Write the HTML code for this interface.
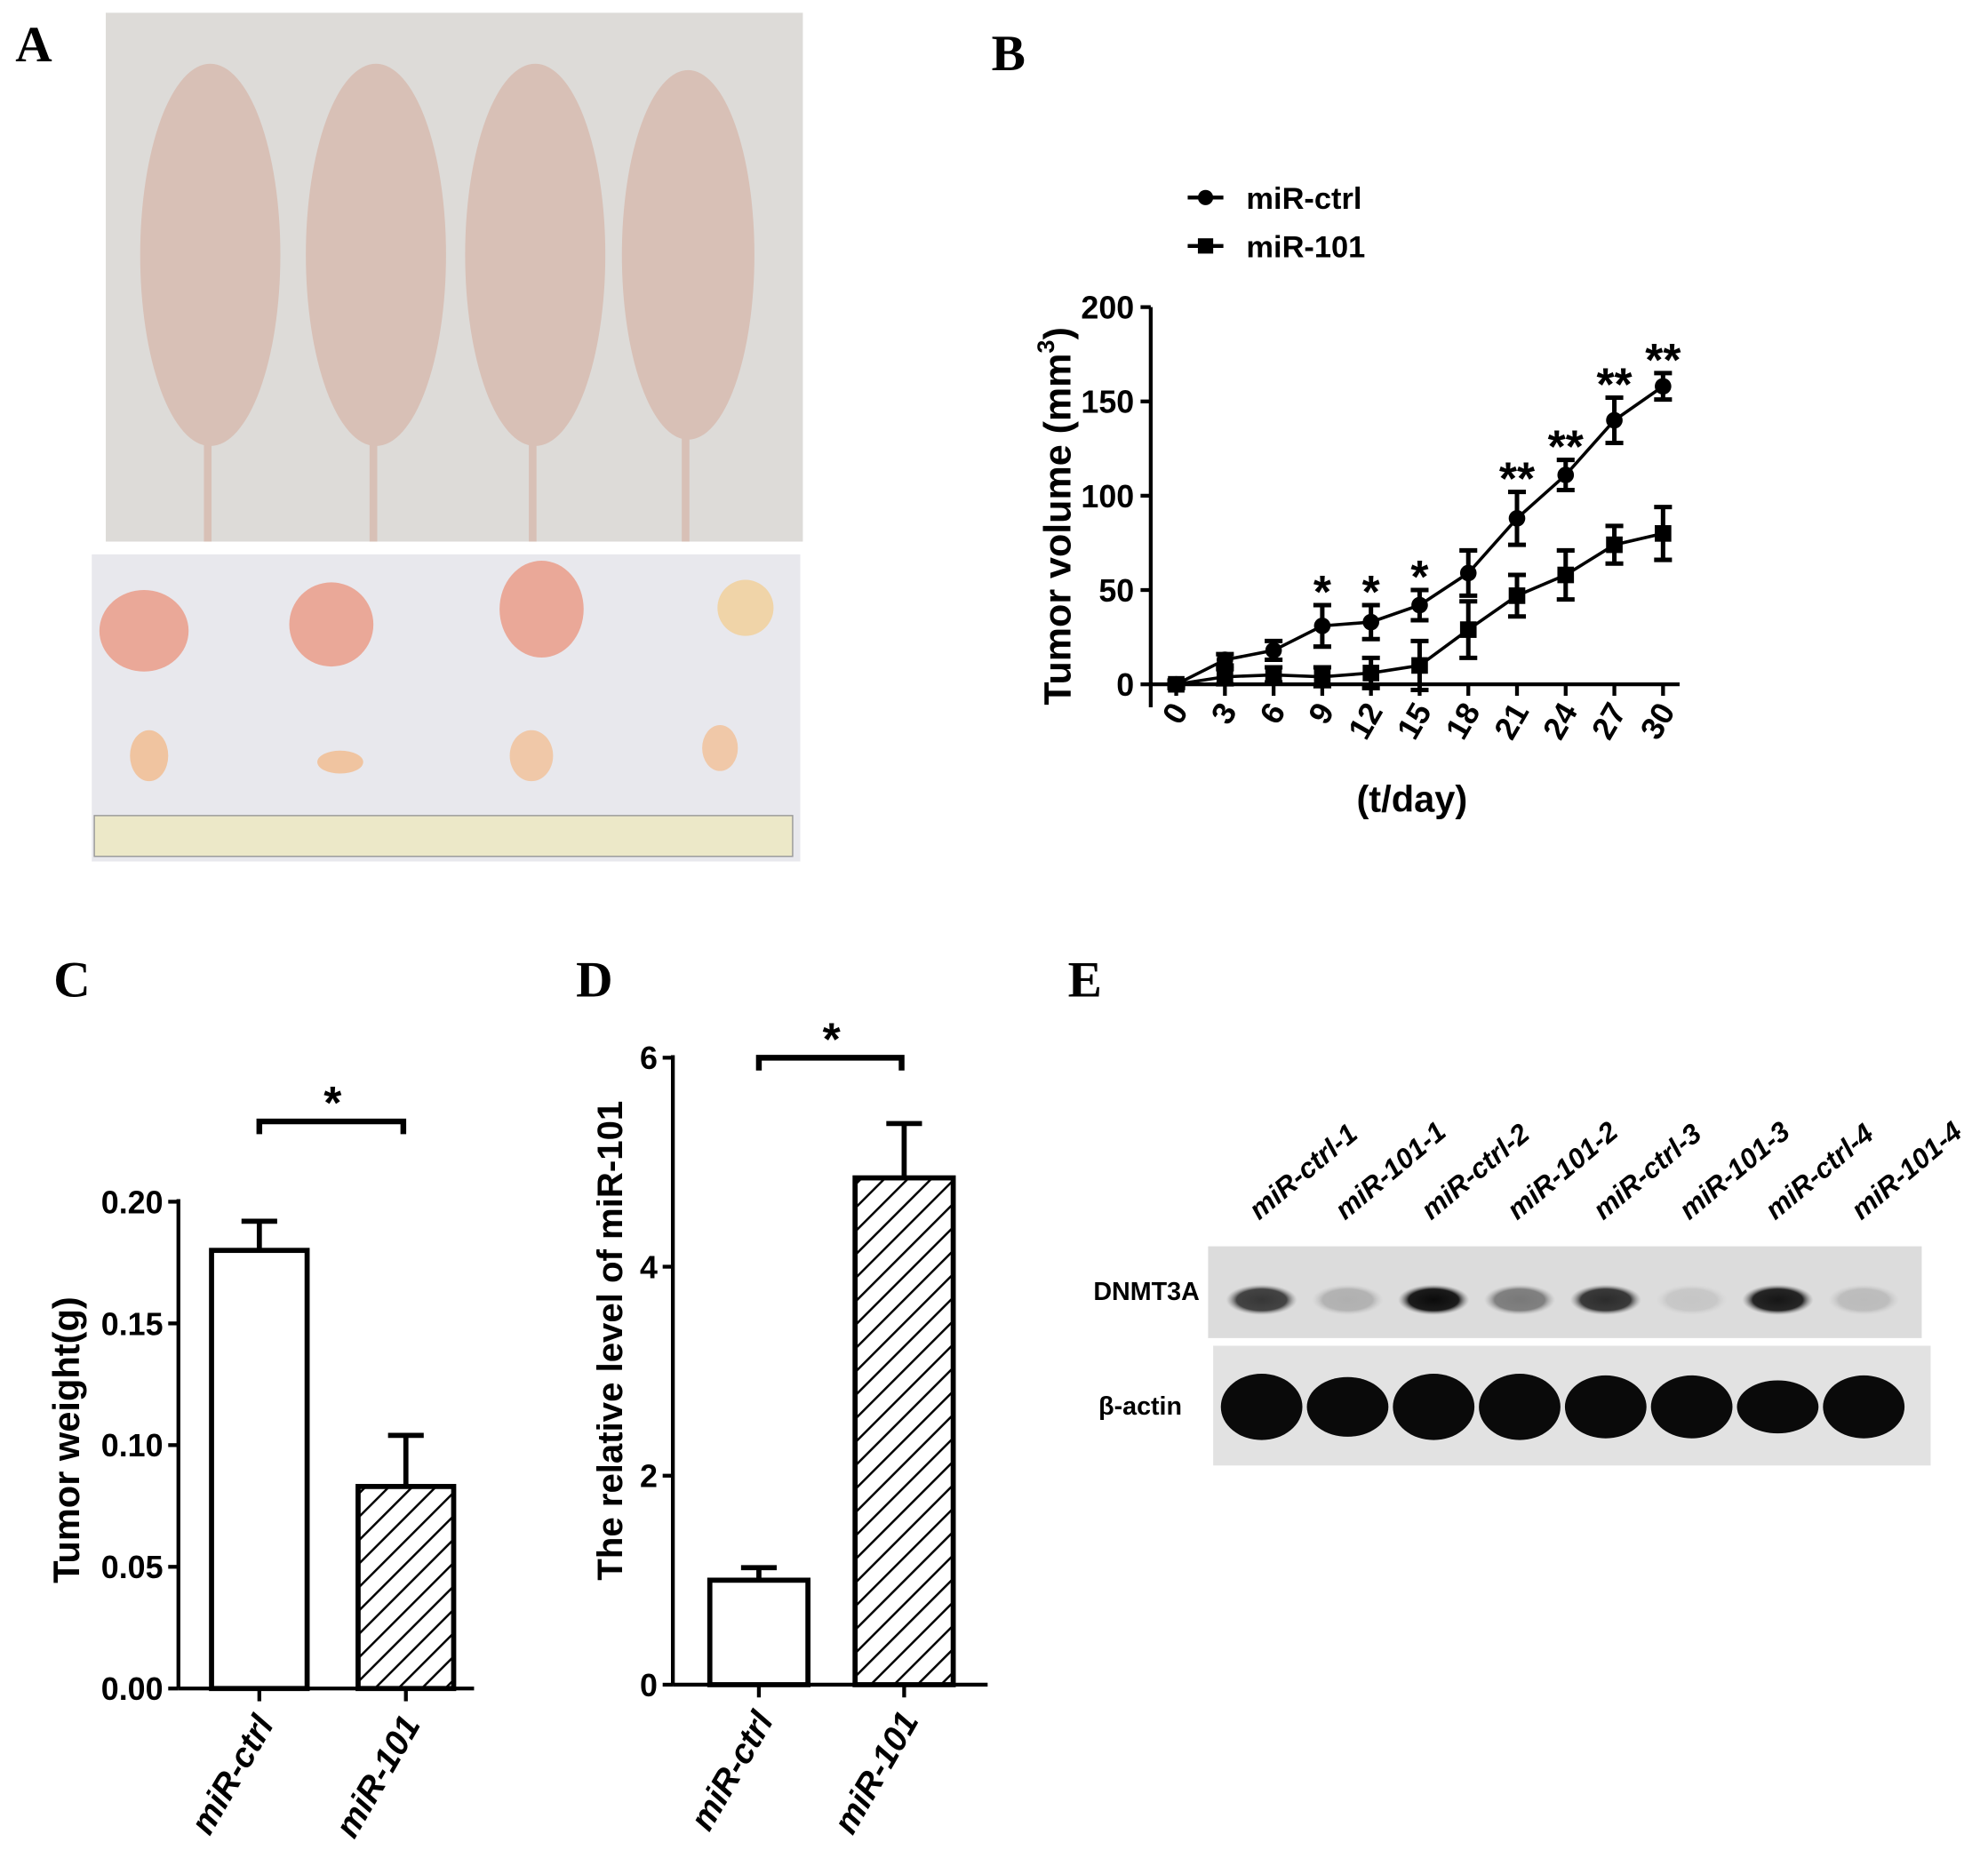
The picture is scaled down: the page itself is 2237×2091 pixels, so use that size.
<!DOCTYPE html>
<html><head><meta charset="utf-8"><style>
html,body{margin:0;padding:0;background:#fff;}
svg{display:block;}
text{font-family:"Liberation Sans",sans-serif;font-weight:bold;fill:#000;}
.pl{font-family:"Liberation Serif",serif;font-size:40px;}
</style></head><body>
<svg id="fig" width="2237" height="2091" viewBox="0 0 1560 1458" preserveAspectRatio="none" xmlns="http://www.w3.org/2000/svg">
<defs>
<pattern id="hatch" patternUnits="userSpaceOnUse" width="13" height="13" patternTransform="rotate(45)">
<rect width="13" height="13" fill="#fff"/><line x1="0" y1="0" x2="0" y2="13" stroke="#000" stroke-width="3.5"/>
</pattern>
<radialGradient id="band"><stop offset="0" stop-color="#000"/><stop offset="0.7" stop-color="#111"/><stop offset="1" stop-color="#888" stop-opacity="0"/></radialGradient>
</defs>
<g>
<text class="pl" x="12" y="48">A</text>
<rect x="83" y="10" width="547" height="415" fill="#dddbd8"/>
<g fill="#d8c0b6">
<ellipse cx="165" cy="200" rx="55" ry="150"/><ellipse cx="295" cy="200" rx="55" ry="150"/>
<ellipse cx="420" cy="200" rx="55" ry="150"/><ellipse cx="540" cy="200" rx="52" ry="145"/>
<rect x="160" y="330" width="6" height="95"/><rect x="290" y="330" width="6" height="95"/>
<rect x="415" y="330" width="6" height="95"/><rect x="535" y="330" width="6" height="95"/>
</g>
<rect x="72" y="435" width="556" height="241" fill="#e8e8ed"/>
<g fill="#eaa898">
<ellipse cx="113" cy="495" rx="35" ry="32"/><ellipse cx="260" cy="490" rx="33" ry="33"/>
<ellipse cx="425" cy="478" rx="33" ry="38"/><ellipse cx="585" cy="477" rx="22" ry="22" fill="#f0d4a8"/>
<ellipse cx="117" cy="593" rx="15" ry="20" fill="#f0c4a0"/><ellipse cx="267" cy="598" rx="18" ry="9" fill="#f0c4a0"/>
<ellipse cx="417" cy="593" rx="17" ry="20" fill="#f0c8a8"/><ellipse cx="565" cy="587" rx="14" ry="18" fill="#f0c8a8"/>
</g>
<rect x="74" y="640" width="548" height="32" fill="#ece8c8" stroke="#999"/>
</g>
<g id="pb">
<text class="pl" x="778" y="55">B</text>
<line x1="932" y1="155" x2="960" y2="155" stroke="#000" stroke-width="3"/>
<circle cx="946" cy="155" r="6"/>
<text x="978" y="164" font-size="24">miR-ctrl</text>
<line x1="932" y1="193" x2="960" y2="193" stroke="#000" stroke-width="3"/>
<rect x="940" y="187" width="12" height="12"/>
<text x="978" y="202" font-size="24">miR-101</text>
<text transform="translate(840,405) rotate(-90)" text-anchor="middle" font-size="30">Tumor volume (mm<tspan dy="-13" font-size="19">3</tspan><tspan dy="13">)</tspan></text>
<text x="1108" y="637" text-anchor="middle" font-size="29">(t/day)</text>
</g>
<g id="pc">
<text class="pl" x="42" y="782">C</text>
<text transform="translate(62,1130) rotate(-90)" text-anchor="middle" font-size="29">Tumor weight(g)</text>
</g>
<g id="pd">
<text class="pl" x="452" y="782">D</text>
<text transform="translate(488,1052) rotate(-90)" text-anchor="middle" font-size="28">The relative level of miR-101</text>
</g>
<g id="pe">
<text class="pl" x="838" y="782">E</text>
<text x="858" y="1020" font-size="20">DNMT3A</text>
<text x="862" y="1110" font-size="20">β-actin</text>
<rect x="948" y="978" width="560" height="72" fill="#dcdcdc"/>
<rect x="952" y="1056" width="563" height="94" fill="#e2e2e2"/>
</g>
</svg>
<script>
const NS='http://www.w3.org/2000/svg';
function mk(parent,tag,attrs){const e=document.createElementNS(NS,tag);for(const k in attrs)e.setAttribute(k,attrs[k]);parent.appendChild(e);return e;}

const days=[0,3,6,9,12,15,18,21,24,27,30];
const ctrlVals=[0,13,18,31,33,42,59,88,111,140,158];
const ctrlErr=[2,3,5,11,9,8,12,14,8,12,7];
const m101Vals=[0,4,5,4,6,10,29,47,58,74,80];
const m101Err=[1,4,4,5,8,13,15,11,13,10,14];
const bSig=['','','','*','*','*','','**','**','**','**'];
const bYTicks=[0,50,100,150,200];

const pb=document.getElementById('pb');
const bx=t=>923+t/30*382, by=v=>537-v*296/200;
let ax=mk(pb,'line',{x1:903,y1:241,x2:903,y2:555,stroke:'#000','stroke-width':3});

ax=mk(pb,'line',{x1:903,y1:537,x2:1318,y2:537,stroke:'#000','stroke-width':3});

bYTicks.forEach(v=>{
 const l=mk(pb,'line',{x1:895,y1:by(v),x2:903,y2:by(v),stroke:'#000','stroke-width':3});
 
 const t=mk(pb,'text',{x:890,y:by(v)+9,'text-anchor':'end','font-size':25});t.textContent=v;
 
});
days.forEach(d=>{
 const l=mk(pb,'line',{x1:bx(d),y1:537,x2:bx(d),y2:546,stroke:'#000','stroke-width':3});
 
 const t=mk(pb,'text',{transform:`translate(${bx(d)+10},${558}) rotate(-60)`,'text-anchor':'end','font-size':25});t.textContent=d;
 
});
function series(vals,errs,name,marker){
 const pts=days.map((d,i)=>bx(d)+','+by(vals[i])).join(' ');
 const p=mk(pb,'polyline',{points:pts,fill:'none',stroke:'#000','stroke-width':2.5});
 
 days.forEach((d,i)=>{
  const x=bx(d),y1=by(vals[i]+errs[i]),y2=by(vals[i]-errs[i]);
  const g=mk(pb,'path',{d:`M${x},${y1}V${y2}M${x-7},${y1}H${x+7}M${x-7},${y2}H${x+7}`,stroke:'#000','stroke-width':3.5,fill:'none'});
  
  let m;
  if(marker==='c'){m=mk(pb,'circle',{cx:x,cy:by(vals[i]),r:6.5});}
  else{m=mk(pb,'rect',{x:x-6.5,y:by(vals[i])-6.5,width:13,height:13});}
  
 });
}
series(m101Vals,m101Err,'mir-101','s');
series(ctrlVals,ctrlErr,'mir-ctrl','c');
days.forEach((d,i)=>{ if(!bSig[i])return;
 const t=mk(pb,'text',{x:bx(d),y:by(ctrlVals[i]+ctrlErr[i])+2,'text-anchor':'middle','font-size':36});t.textContent=bSig[i];
 
});

const cCats=['miR-ctrl','miR-101'];
const cVals=[0.18,0.083];
const cErr=[0.012,0.021];
const cTicks=['0.00','0.05','0.10','0.15','0.20'];
const dCats=['miR-ctrl','miR-101'];
const dVals=[1.0,4.85];
const dErr=[0.12,0.52];
const dTicks=['0','2','4','6'];

function bars(g,cfg){
 const {axX,axEnd,y0,yTop,maxV,cats,vals,errs,ticks,barL,barW,sig,key}=cfg;
 const y=v=>y0-v/maxV*(y0-yTop);
 let a=mk(g,'line',{x1:axX,y1:yTop-2,x2:axX,y2:y0,stroke:'#000','stroke-width':3});
 
 a=mk(g,'line',{x1:axX,y1:y0,x2:axEnd,y2:y0,stroke:'#000','stroke-width':3});
 
 ticks.forEach(tv=>{const v=parseFloat(tv);
  const l=mk(g,'line',{x1:axX-8,y1:y(v),x2:axX,y2:y(v),stroke:'#000','stroke-width':3});
  
  const t=mk(g,'text',{x:axX-12,y:y(v)+9,'text-anchor':'end','font-size':25});t.textContent=tv;
  
 });
 const centers=[];
 cats.forEach((c,i)=>{
  const x=barL[i],cx=x+barW/2;centers.push(cx);
  const top=y(vals[i]+errs[i]);
  const e=mk(g,'path',{d:`M${cx},${y(vals[i])}V${top}M${cx-14},${top}H${cx+14}`,stroke:'#000','stroke-width':4});
  
  const r=mk(g,'rect',{x:x,y:y(vals[i]),width:barW,height:y0-y(vals[i]),fill:i?'url(#hatch)':'#fff',stroke:'#000','stroke-width':4});
  
  const l=mk(g,'line',{x1:cx,y1:y0,x2:cx,y2:y0+10,stroke:'#000','stroke-width':3});
  
  const t=mk(g,'text',{transform:`translate(${cx+12},${y0+28}) rotate(-60)`,'text-anchor':'end','font-size':27,'font-style':'italic'});t.textContent=c;
  
 });
 const s=mk(g,'path',{d:`M${centers[0]},${sig+10}V${sig}H${centers[1]-2}V${sig+10}`,stroke:'#000','stroke-width':4.5,fill:'none'});
 
 const st=mk(g,'text',{x:(centers[0]+centers[1])/2,y:sig-2,'text-anchor':'middle','font-size':36});st.textContent='*';
 
}
bars(document.getElementById('pc'),{axX:140,axEnd:372,y0:1325,yTop:943,maxV:0.2,cats:cCats,vals:cVals,errs:cErr,ticks:cTicks,barL:[166,281],barW:75,sig:880,key:'c'});
bars(document.getElementById('pd'),{axX:528,axEnd:775,y0:1322,yTop:830,maxV:6,cats:dCats,vals:dVals,errs:dErr,ticks:dTicks,barL:[557,671],barW:77,sig:830,key:'d'});

const lanes=['miR-ctrl-1','miR-101-1','miR-ctrl-2','miR-101-2','miR-ctrl-3','miR-101-3','miR-ctrl-4','miR-101-4'];
const dnmtInt=[0.75,0.2,0.95,0.45,0.8,0.1,0.9,0.15];
const actinInt=[1,0.9,1,1,0.95,0.95,0.8,0.95];
const pe=document.getElementById('pe');
lanes.forEach((n,i)=>{
 const cx=990+i*67.5;
 const t=mk(pe,'text',{transform:`translate(${cx-2},${958}) rotate(-40)`,'font-size':22,'font-style':'italic'});t.textContent=n;
 
 const b=mk(pe,'ellipse',{cx:cx,cy:1020,rx:28,ry:12,fill:'url(#band)',opacity:dnmtInt[i]});
 
 const a=mk(pe,'ellipse',{cx:cx,cy:1104,rx:32,ry:26*actinInt[i],fill:'#0a0a0a'});
 
});
</script>
</body></html>
